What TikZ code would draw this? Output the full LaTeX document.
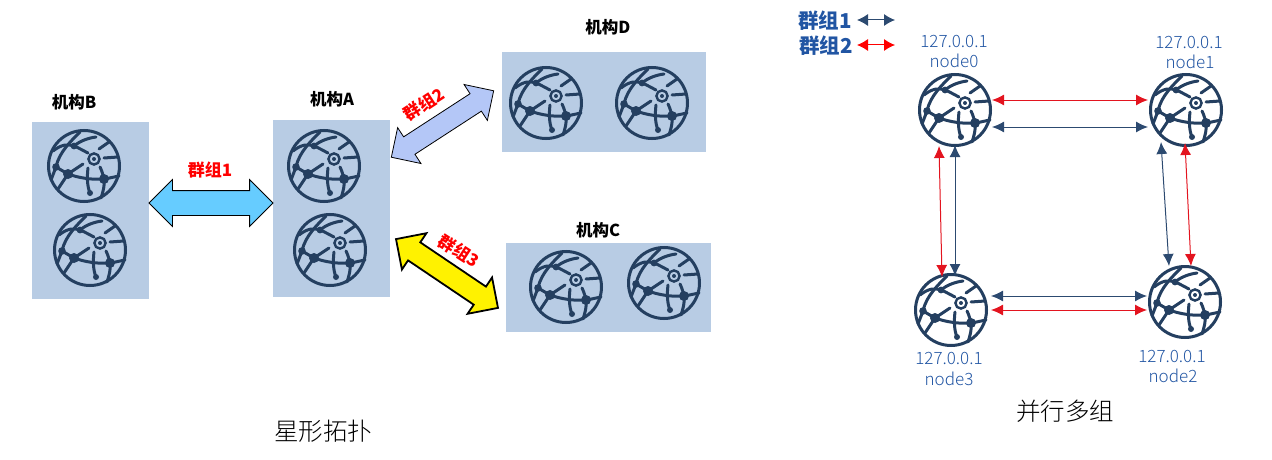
\documentclass[tikz,border=0pt]{standalone}
\usepackage{fontspec}
\setmainfont{Noto Sans CJK SC}
\newfontfamily\lightcjk{Noto Sans CJK SC Light}
\usetikzlibrary{shapes.arrows,arrows.meta}
\definecolor{boxblue}{HTML}{B8CCE4}
\definecolor{globenavy}{HTML}{243F60}
\definecolor{linknavy}{HTML}{2C4A70}
\definecolor{linkred}{HTML}{E3141F}
\definecolor{textblue}{HTML}{2155A3}
\definecolor{skyfill}{HTML}{66CCFF}
\definecolor{periwinkle}{HTML}{B4C7F7}
\tikzset{
  orgbox/.style={fill=boxblue,draw=none,inner sep=0pt,outer sep=0pt},
  orgname/.style={font=\fontsize{16.5}{16.5}\selectfont\bfseries,text=black,inner sep=0pt},
  grouplabel/.style={font=\fontsize{17}{17}\selectfont\bfseries,text=red,inner sep=0pt},
  legendlabel/.style={font=\fontsize{20.5}{20.5}\selectfont\bfseries,text=textblue,inner sep=0pt},
  addr/.style={font=\fontsize{17}{17}\selectfont\lightcjk,text=textblue,inner sep=0pt},
  caption/.style={font=\fontsize{24.5}{24.5}\selectfont\lightcjk,text=black,inner sep=0pt},
  blockarrow/.style={shape=double arrow,draw=black,inner sep=0pt,outer sep=0pt,
    double arrow tip angle=90},
  navylink/.style={draw=linknavy,line width=1pt,{Latex[length=12pt,width=11pt]}-{Latex[length=12pt,width=11pt]}},
  redlink/.style={draw=linkred,line width=1pt,{Latex[length=12pt,width=11pt]}-{Latex[length=12pt,width=11pt]}},
  legnavy/.style={draw=linknavy,line width=1pt,{Latex[length=11pt,width=12pt]}-{Latex[length=11pt,width=12pt]}},
  legred/.style={draw=red,line width=1pt,{Latex[length=11pt,width=12pt]}-{Latex[length=11pt,width=12pt]}},
  globe/.pic={
    \begin{scope}[draw=globenavy,line width=3pt,line cap=round,fill=globenavy]
      \draw (0,0) circle[radius=35.5];
      \draw[line width=2.4pt] (10,-7) circle[radius=5.6];
      \fill (10,-7) circle[radius=2];
      \draw (-31,-15) .. controls (-22,-22) and (-16,-22) .. (-10,-20) .. controls (-5,-18) and (0,-15) .. (4,-13);
      \draw (-10,-20) .. controls (-4,-25) and (4,-28) .. (12,-29);
      \draw (-28,1) .. controls (-25,-14) and (-12,-26) .. (-4,-34);
      \draw (15,-17) -- (25,-24);
      \draw (20,-8) -- (34,-9);
      \draw (-16,8) -- (-1,-2);
      \draw (-28,1) -- (-16,8) .. controls (-5,12) and (8,14) .. (20,13) .. controls (26,12) and (30,11) .. (35,10);
      \draw (4,2) .. controls (3,10) and (3,20) .. (6,27);
      \draw (16,1) .. controls (18,5) and (19,9) .. (20,13) .. controls (21,19) and (19,26) .. (17,32);
      \draw (-16,8) -- (-26,23);
      \draw (-28,1) -- (-33,14);
      \fill (-10,-20) circle[radius=3.4];
      \fill (-28,1) circle[radius=3.8];
      \fill (-16,8) circle[radius=5];
      \fill (20,13) circle[radius=5];
      \fill (6,27) circle[radius=3];
    \end{scope}
  }
}
\begin{document}
\begin{tikzpicture}[x=1pt,y=-1pt]
\useasboundingbox (0,0) rectangle (1272,460);
% organisation boxes
\fill[orgbox] (32,122) rectangle (149,299);
\fill[orgbox] (273,120) rectangle (390,297);
\fill[orgbox] (502,52) rectangle (706,152);
\fill[orgbox] (506,243) rectangle (711,332);
% globes
\pic at (84,166) {globe};
\pic at (90,250) {globe};
\pic at (324,166) {globe};
\pic at (330,250) {globe};
\pic at (546,103) {globe};
\pic at (652,103) {globe};
\pic at (566,287) {globe};
\pic at (664,283) {globe};
\pic at (955,110) {globe};
\pic at (1186,110) {globe};
\pic at (951,310) {globe};
\pic at (1185,302) {globe};
% organisation names
\node[orgname] (orgB) at (74,102) {机构B};
\node[orgname] (orgA) at (332,99) {机构A};
\node[orgname] (orgD) at (608,27) {机构D};
\node[orgname] (orgC) at (598,230) {机构C};
% block arrows
\node[blockarrow,fill=skyfill,line width=0.8pt,
  minimum height=124pt,double arrow head extend=11pt] (a1) at (211,203) {\rule{0pt}{24pt}};
\node[blockarrow,fill=periwinkle,line width=0.8pt,rotate=33,
  minimum height=122pt,double arrow head extend=11pt] (a2) at (442.5,124) {\rule{0pt}{20pt}};
\node[blockarrow,fill=yellow,line width=1.8pt,rotate=-34,
  minimum height=123pt,double arrow head extend=11pt] (a3) at (447,273.5) {\rule{0pt}{20pt}};
\node[grouplabel] (g1) at (210,170) {群组1};
\node[grouplabel,rotate=33] (g2) at (424,104) {群组2};
\node[grouplabel,rotate=-33] (g3) at (459,251) {群组3};
% legend
\node[legendlabel] (leg1) at (825,21) {群组1};
\node[legendlabel] (leg2) at (826,46) {群组2};
\coordinate (l1a) at (857,20);
\coordinate (l1b) at (895,20);
\coordinate (l2a) at (857,45);
\coordinate (l2b) at (895,45);
\draw[legnavy] (l1a) -- (l1b);
\draw[legred] (l2a) -- (l2b);
% addresses
\node[addr] (ip0) at (954,41) {127.0.0.1};
\node[addr] (nm0) at (954,61) {node0};
\node[addr] (ip1) at (1189,42) {127.0.0.1};
\node[addr] (nm1) at (1190,62) {node1};
\node[addr] (ip3) at (949,358) {127.0.0.1};
\node[addr] (nm3) at (949,379) {node3};
\node[addr] (ip2) at (1172,356) {127.0.0.1};
\node[addr] (nm2) at (1173,376) {node2};
% links
\coordinate (t1a) at (992,100);  \coordinate (t1b) at (1148,100);
\coordinate (t2a) at (992,127);  \coordinate (t2b) at (1148,127);
\coordinate (b1a) at (991,296);  \coordinate (b1b) at (1147,296);
\coordinate (b2a) at (991,310);  \coordinate (b2b) at (1147,310);
\coordinate (l1t) at (939,146);  \coordinate (l1e) at (942,277);
\coordinate (l2t) at (955,145);  \coordinate (l2e) at (955,276);
\coordinate (r1t) at (1161,142); \coordinate (r1e) at (1169,266);
\coordinate (r2t) at (1185,143); \coordinate (r2e) at (1191,266);
\draw[redlink] (t1a) -- (t1b);
\draw[navylink] (t2a) -- (t2b);
\draw[navylink] (b1a) -- (b1b);
\draw[redlink] (b2a) -- (b2b);
\draw[redlink] (l1t) -- (l1e);
\draw[navylink] (l2t) -- (l2e);
\draw[navylink] (r1t) -- (r1e);
\draw[redlink] (r2t) -- (r2e);
% captions
\node[caption] (cap1) at (323,431) {星形拓扑};
\node[caption] (cap2) at (1065,411) {并行多组};
\end{tikzpicture}
\end{document}
